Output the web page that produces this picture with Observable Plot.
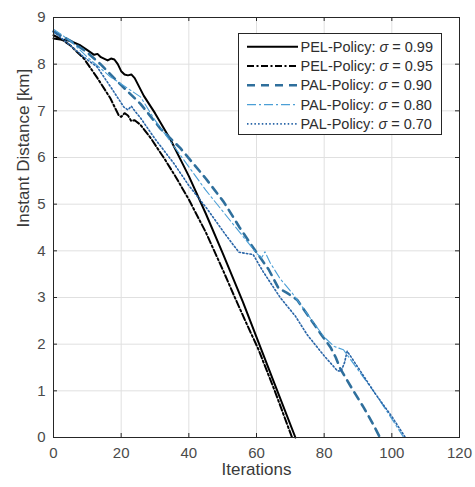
<!DOCTYPE html>
<html><head><meta charset="utf-8">
<script src="https://cdn.jsdelivr.net/npm/d3@7"></script>
<script src="https://cdn.jsdelivr.net/npm/@observablehq/plot@0.6"></script>
<style>
html,body{margin:0;padding:0;background:#fff;}
#chart{position:relative;width:475px;height:487px;font-family:"Liberation Sans",Arial,sans-serif;}
#legend{position:absolute;left:238px;top:33px;}
</style></head><body>
<div id="chart"></div>
<script>
// ---- data ----
const xTicks = [0, 20, 40, 60, 80, 100, 120];
const yTicks = [0, 1, 2, 3, 4, 5, 6, 7, 8, 9];
const policyNames = ["PEL-Policy", "PEL-Policy", "PAL-Policy", "PAL-Policy", "PAL-Policy"];
const sigmaValues = ["0.99", "0.95", "0.90", "0.80", "0.70"];

const pel099Iter = [0, 3, 5, 8, 10, 12, 13, 14, 16, 17, 18, 19, 20, 21, 22, 23, 24, 26.7, 30, 34.6, 40, 45, 50, 56, 60, 65.6, 71.5];
const pel099Dist = [8.55, 8.52, 8.5, 8.4, 8.3, 8.2, 8.22, 8.15, 8.08, 8.12, 8.1, 8.0, 7.85, 7.78, 7.76, 7.78, 7.7, 7.32, 6.95, 6.38, 5.6, 4.8, 3.95, 2.9, 2.15, 1.1, 0];

const pel095Iter = [0, 2, 5, 9, 13, 16.8, 19.3, 20, 21, 22, 23, 24, 25.7, 28.7, 33, 36, 40, 45, 50, 53.3, 57, 60.5, 65.5, 70.5];
const pel095Dist = [8.62, 8.55, 8.4, 8.12, 7.7, 7.27, 6.9, 6.87, 6.95, 6.9, 6.78, 6.8, 6.7, 6.42, 5.95, 5.6, 5.1, 4.4, 3.6, 3.05, 2.45, 1.9, 0.98, 0];

const pal090Iter = [0, 5, 10, 13.9, 20, 25.7, 31.6, 37.5, 45, 50.3, 52.8, 55, 59.2, 63.6, 66.5, 69, 72, 79, 81.9, 83.4, 84.8, 88.3, 91.7, 94.2, 96.5];
const pal090Dist = [8.7, 8.5, 8.25, 8.0, 7.55, 7.15, 6.62, 6.2, 5.55, 5.05, 4.76, 4.5, 4.05, 3.6, 3.2, 3.1, 2.95, 2.22, 1.93, 1.72, 1.47, 1.04, 0.64, 0.32, 0];

const pal080Iter = [0, 5, 10, 16.8, 25.7, 30, 35, 40, 45, 50, 55, 60, 61.5, 62.5, 64, 67, 70.5, 75, 80, 83, 85.7, 87, 90, 95, 100, 103.5];
const pal080Dist = [8.75, 8.5, 8.15, 7.73, 7.3, 6.8, 6.3, 5.8, 5.3, 4.85, 4.4, 3.95, 3.85, 3.98, 3.75, 3.4, 3.1, 2.65, 2.15, 1.95, 1.88, 1.75, 1.45, 0.95, 0.4, 0];

const pal070Iter = [0, 5, 9, 12.9, 17, 20.8, 22, 23, 24, 25.7, 30, 35.6, 40, 45.4, 50.8, 54.8, 59, 62, 67, 71.5, 75, 80, 83.9, 85, 86, 86.8, 88, 90, 95, 100, 104];
const pal070Dist = [8.7, 8.4, 8.15, 7.94, 7.5, 7.08, 7.02, 7.1, 7.0, 6.85, 6.4, 5.87, 5.4, 4.9, 4.35, 3.97, 3.92, 3.55, 3.0, 2.6, 2.2, 1.75, 1.43, 1.42, 1.6, 1.85, 1.72, 1.5, 0.95, 0.45, 0];

// ---- layout / styles ----
const W = 475, H = 487, mL = 53, mR = 16, mT = 17, mB = 50;
const innerW = W - mL - mR, innerH = H - mT - mB;
const styles = [
  {stroke: "#000000", strokeWidth: 2, dash: null},
  {stroke: "#000000", strokeWidth: 2, dash: "7,2.5,2,2.5"},
  {stroke: "#2f6f9c", strokeWidth: 2.6, dash: "8,6"},
  {stroke: "#4b9fd6", strokeWidth: 1.1, dash: "9,3,2,3"},
  {stroke: "#2a66a8", strokeWidth: 1.6, dash: "1.5,2.2"}
];
const iters = [pel099Iter, pel095Iter, pal090Iter, pal080Iter, pal070Iter];
const dists = [pel099Dist, pel095Dist, pal090Dist, pal080Dist, pal070Dist];

const seriesData = iters.map((xs, i) => xs.map((x, j) => ({x, y: dists[i][j], s: sigmaValues[i]})));

const lineMarks = seriesData.map((d, i) => Plot.line(d, {
  x: "x", y: "y", stroke: styles[i].stroke, strokeWidth: styles[i].strokeWidth,
  strokeDasharray: styles[i].dash, strokeLinejoin: "round"
}));

const axisColor = "#262626";
const plot = Plot.plot({
  width: W, height: H,
  marginLeft: mL, marginRight: mR, marginTop: mT, marginBottom: mB,
  x: {domain: [0, 120]},
  y: {domain: [0, 9]},
  style: {fontFamily: "'Liberation Sans', Arial, sans-serif", background: "#fff"},
  marks: [
    Plot.gridX(xTicks, {stroke: "#e0e0e0", strokeOpacity: 1}),
    Plot.gridY(yTicks, {stroke: "#e0e0e0", strokeOpacity: 1}),
    ...lineMarks,
    Plot.ruleX(xTicks, {insetTop: innerH - 4, stroke: axisColor}),
    Plot.ruleX(xTicks, {insetBottom: innerH - 4, stroke: axisColor}),
    Plot.ruleY(yTicks, {insetRight: innerW - 4, stroke: axisColor}),
    Plot.ruleY(yTicks, {insetLeft: innerW - 4, stroke: axisColor}),
    Plot.frame({stroke: axisColor, strokeWidth: 1}),
    Plot.axisX({ticks: xTicks, tickSize: 0, tickPadding: 10, fontSize: 15, color: "#4a4a4a", label: null}),
    Plot.axisY({ticks: yTicks, tickSize: 0, tickPadding: 8, fontSize: 15, color: "#4a4a4a", label: null}),
    Plot.text(["Iterations"], {text: d => d, frameAnchor: "bottom", dy: 37, fontSize: 17, fill: "#3a3a3a"}),
    Plot.text(["Instant Distance [km]"], {text: d => d, frameAnchor: "left", dx: -30, rotate: -90, fontSize: 17, fill: "#3a3a3a"})
  ]
});
const chart = document.getElementById("chart");
chart.appendChild(plot);

// ---- legend overlay ----
const lw = 204, lh = 102;
const leg = d3.select(chart).append("svg").attr("id", "legend")
  .attr("width", lw).attr("height", lh);
leg.append("rect").attr("x", 0.5).attr("y", 0.5).attr("width", lw - 1).attr("height", lh - 1)
  .attr("fill", "#fff").attr("stroke", axisColor);
sigmaValues.forEach((s, i) => {
  const cy = 13.7 + i * 19.3;
  leg.append("line").attr("x1", 9).attr("x2", 60).attr("y1", cy).attr("y2", cy)
    .attr("stroke", styles[i].stroke).attr("stroke-width", styles[i].strokeWidth)
    .attr("stroke-dasharray", styles[i].dash);
  const t = leg.append("text").attr("x", 62.5).attr("y", cy).attr("dy", "0.35em")
    .attr("font-size", 14.5).attr("fill", "#2e2e2e")
    .attr("font-family", "'Liberation Sans', Arial, sans-serif");
  t.append("tspan").text(policyNames[i] + ": ");
  t.append("tspan").attr("font-style", "italic").text("\u03C3");
  t.append("tspan").text(" = " + s);
});
</script>
</body></html>
